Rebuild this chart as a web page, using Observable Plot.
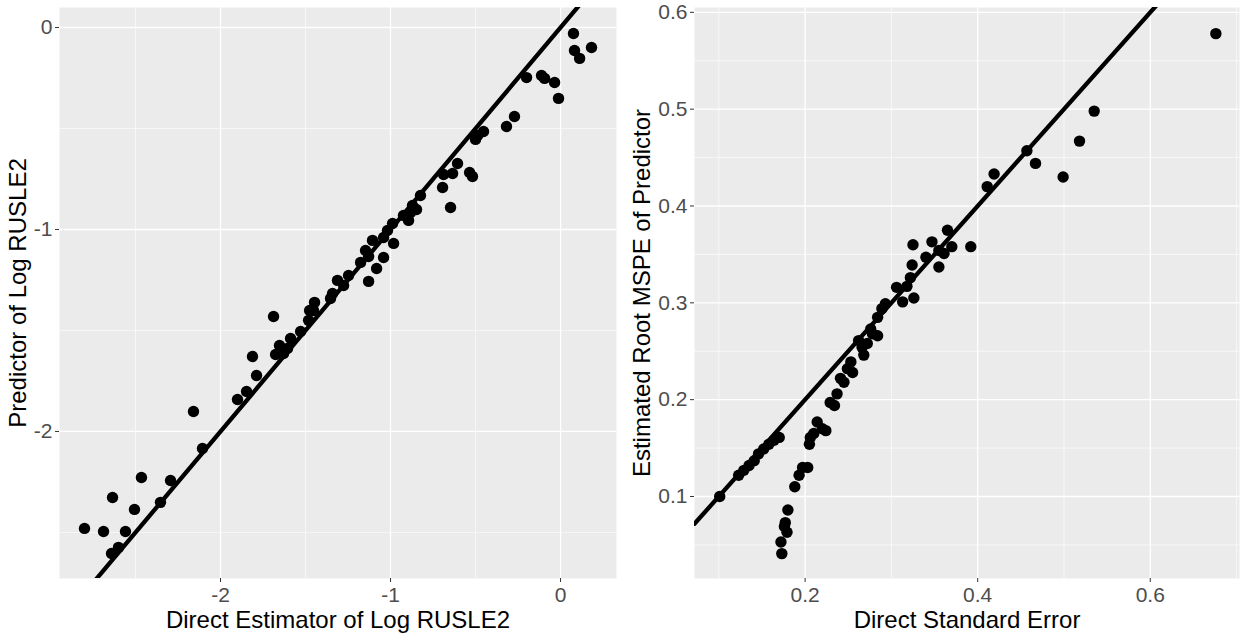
<!DOCTYPE html>
<html>
<head>
<meta charset="utf-8">
<script src="https://cdn.jsdelivr.net/npm/d3@7"></script>
<script src="https://cdn.jsdelivr.net/npm/@observablehq/plot@0.6"></script>
<style>
  html, body { margin: 0; padding: 0; background: white; }
  #wrap { display: flex; flex-direction: row; width: 1248px; height: 640px; }
</style>
</head>
<body>
<div id="wrap"></div>
<script>
// Left panel: direct estimator vs predictor of log RUSLE2
const leftX = [0.076,0.082,0.112,0.182,-0.200,-0.112,-0.094,-0.035,-0.012,-0.271,-0.318,-0.453,-0.488,-0.500,-0.606,-0.635,-0.688,-0.694,-0.535,-0.518,-0.647,-0.824,-0.871,-0.847,-0.894,-0.924,-0.988,-1.018,-1.041,-0.982,-1.106,-1.147,-1.129,-1.041,-1.082,-1.176,-1.129,-1.247,-1.312,-1.276,-1.341,-1.353,-1.447,-1.476,-1.453,-1.482,-1.529,-1.588,-1.653,-1.606,-1.676,-1.629,-1.688,-1.812,-1.788,-1.847,-1.900,-2.159,-2.106,-2.294,-2.465,-2.353,-2.635,-2.506,-2.800,-2.688,-2.559,-2.600,-2.641,-0.882];
const leftY = [-0.030,-0.114,-0.153,-0.099,-0.248,-0.238,-0.252,-0.272,-0.351,-0.441,-0.490,-0.515,-0.535,-0.554,-0.673,-0.723,-0.728,-0.792,-0.718,-0.738,-0.891,-0.832,-0.881,-0.901,-0.955,-0.931,-0.970,-1.005,-1.040,-1.069,-1.054,-1.104,-1.134,-1.139,-1.193,-1.163,-1.257,-1.228,-1.252,-1.277,-1.317,-1.342,-1.361,-1.401,-1.401,-1.450,-1.505,-1.540,-1.574,-1.589,-1.619,-1.614,-1.431,-1.629,-1.723,-1.802,-1.842,-1.901,-2.084,-2.243,-2.228,-2.351,-2.327,-2.386,-2.480,-2.495,-2.495,-2.574,-2.604,-0.916];

// Right panel: direct standard error vs estimated root MSPE
const rightX = [0.101,0.123,0.129,0.135,0.141,0.146,0.152,0.158,0.164,0.170,0.173,0.172,0.179,0.176,0.177,0.180,0.188,0.193,0.197,0.203,0.205,0.206,0.210,0.214,0.224,0.220,0.229,0.234,0.237,0.241,0.245,0.249,0.255,0.253,0.262,0.266,0.268,0.272,0.276,0.284,0.278,0.284,0.289,0.293,0.306,0.313,0.318,0.326,0.322,0.324,0.325,0.340,0.347,0.355,0.355,0.361,0.370,0.365,0.392,0.411,0.419,0.457,0.467,0.499,0.518,0.535,0.676];
const rightY = [0.100,0.122,0.127,0.132,0.137,0.144,0.149,0.154,0.158,0.161,0.041,0.053,0.063,0.069,0.073,0.086,0.110,0.122,0.130,0.130,0.154,0.161,0.165,0.177,0.168,0.170,0.197,0.194,0.206,0.222,0.218,0.232,0.228,0.239,0.261,0.254,0.246,0.258,0.273,0.266,0.268,0.285,0.294,0.299,0.316,0.301,0.317,0.305,0.326,0.339,0.360,0.347,0.363,0.337,0.354,0.351,0.358,0.375,0.358,0.420,0.433,0.457,0.444,0.430,0.467,0.498,0.578];

// Axis ticks
const leftXTicks = [-2, -1, 0];
const leftXMinor = [-2.5, -1.5, -0.5];
const leftYTicks = [-2, -1, 0];
const leftYMinor = [-2.5, -1.5, -0.5];
const rightXTicks = [0.2, 0.4, 0.6];
const rightXMinor = [0.1, 0.3, 0.5, 0.7];
const rightYTicks = [0.1, 0.2, 0.3, 0.4, 0.5, 0.6];
const rightYMinor = [0.05, 0.15, 0.25, 0.35, 0.45, 0.55];

// Reference line y = x
const refSlope = 1, refIntercept = 0;

function panel(cfg) {
  const lineData = cfg.xDomain.map(x => ({x, y: refIntercept + refSlope * x}));
  const pts = cfg.xs.map((x, i) => ({x, y: cfg.ys[i]}));
  const tickFont = 21;
  return Plot.plot({
    width: 624,
    height: 640,
    marginLeft: cfg.marginLeft,
    marginRight: cfg.marginRight,
    marginTop: 7,
    marginBottom: 62,
    style: {fontFamily: "'Liberation Sans', Arial, sans-serif", fontSize: "20px", background: "white", overflow: "visible"},
    x: {domain: cfg.xDomain},
    y: {domain: cfg.yDomain},
    marks: [
      Plot.frame({fill: "#ebebeb", stroke: null}),
      Plot.gridX(cfg.xMinor, {stroke: "white", strokeOpacity: 1, strokeWidth: 0.6}),
      Plot.gridY(cfg.yMinor, {stroke: "white", strokeOpacity: 1, strokeWidth: 0.6}),
      Plot.gridX(cfg.xTicks, {stroke: "white", strokeOpacity: 1, strokeWidth: 1.3}),
      Plot.gridY(cfg.yTicks, {stroke: "white", strokeOpacity: 1, strokeWidth: 1.3}),
      Plot.line(lineData, {x: "x", y: "y", stroke: "black", strokeWidth: 4.3, clip: true}),
      Plot.dot(pts, {x: "x", y: "y", r: 5.7, fill: "black", stroke: null}),
      Plot.axisX(cfg.xTicks, {tickSize: 4, stroke: "#333333", tickFormat: () => "", label: null}),
      Plot.axisY(cfg.yTicks, {tickSize: 4, stroke: "#333333", tickFormat: () => "", label: null}),
      Plot.text(cfg.xTicks, {x: d => d, frameAnchor: "bottom", dy: 17, lineAnchor: "middle", textAnchor: "middle", fontSize: tickFont, fill: "#4d4d4d", text: d => String(d)}),
      Plot.text(cfg.yTicks, {y: d => d, frameAnchor: "left", dx: -7, lineAnchor: "middle", textAnchor: "end", fontSize: tickFont, fill: "#4d4d4d", text: d => String(d)}),
      Plot.text([cfg.xTitle], {frameAnchor: "bottom", dy: 42, lineAnchor: "middle", textAnchor: "middle", fontSize: 24, fill: "black", text: d => d}),
      Plot.text([cfg.yTitle], {frameAnchor: "left", dx: cfg.yTitleDx, rotate: -90, lineAnchor: "middle", textAnchor: "middle", fontSize: 24, fill: "black", text: d => d})
    ]
  });
}

const wrap = document.getElementById("wrap");
wrap.appendChild(panel({
  xs: leftX, ys: leftY,
  xDomain: [-2.947, 0.329], yDomain: [-2.728, 0.099],
  xTicks: leftXTicks, xMinor: leftXMinor, yTicks: leftYTicks, yMinor: leftYMinor,
  marginLeft: 59, marginRight: 8,
  xTitle: "Direct Estimator of Log RUSLE2", yTitle: "Predictor of Log RUSLE2", yTitleDx: -41
}));
wrap.appendChild(panel({
  xs: rightX, ys: rightY,
  xDomain: [0.0718, 0.7034], yDomain: [0.0153, 0.605],
  xTicks: rightXTicks, xMinor: rightXMinor, yTicks: rightYTicks, yMinor: rightYMinor,
  marginLeft: 70, marginRight: 9,
  xTitle: "Direct Standard Error", yTitle: "Estimated Root MSPE of Predictor", yTitleDx: -52
}));
</script>
</body>
</html>
